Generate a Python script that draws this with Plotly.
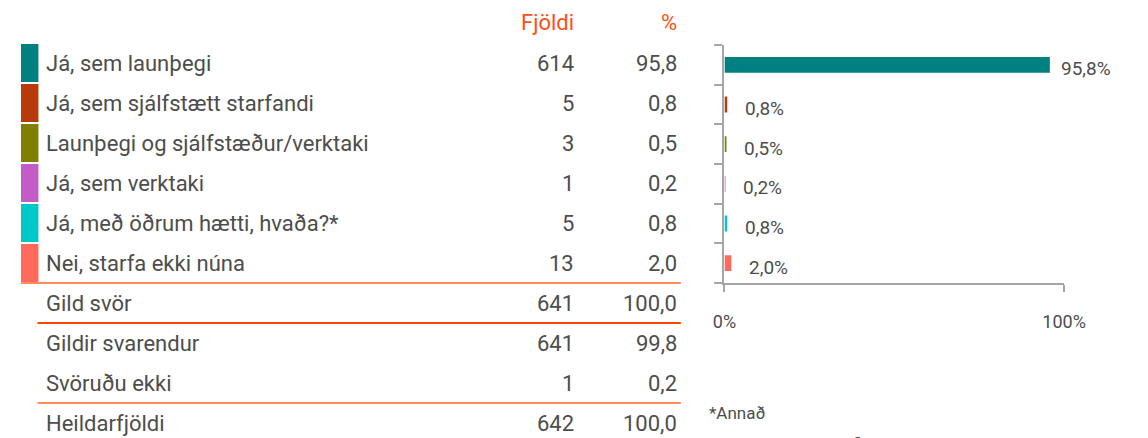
import plotly.graph_objects as go

W, H = 1148, 438
OFF = 8  # page body margin shifts the figure by this much

categories = [
    "Já, sem launþegi",
    "Já, sem sjálfstætt starfandi",
    "Launþegi og sjálfstæður/verktaki",
    "Já, sem verktaki",
    "Já, með öðrum hætti, hvaða?*",
    "Nei, starfa ekki núna",
]
counts = [614, 5, 3, 1, 5, 13]
percents = [95.8, 0.8, 0.5, 0.2, 0.8, 2.0]
bar_colours = ["#008080", "#B83A0B", "#808000", "#C45CC8", "#00C8C8", "#FF6A5A"]

summary_labels = ["Gild svör", "Gildir svarendur", "Svöruðu ekki", "Heildarfjöldi"]
summary_counts = [641, 641, 1, 642]
summary_percents = [100.0, 99.8, 0.2, 100.0]

col_headers = ["Fjöldi", "%"]
x_ticks = [0, 100]
x_ticktext = ["0%", "100%"]
footnote = "*Annað"
footnote_items = ["– Er í veikindaleyfi"]

FONT = "Roboto, Arial, sans-serif"
TEXT = "#4D4D4D"
HEAD = "#FF4F14"
LINE_LIGHT = "#FF8C5A"
LINE_DARK = "#FF4500"
AXIS = "#A6A6A6"

# table geometry in screen pixels
ROW0, ROW_H = 63, 40
LABEL_X, COUNT_X, PCT_X = 33, 581, 687
BOX_X0, BOX_X1 = 9, 27

# bar chart plot area in screen pixels
PX0, PX1 = 734, 1084
PY0, PY1 = 45, 283


def fx(px):
    return (px - OFF) / W


def fy(py):
    return 1 - (py - OFF) / H


def fmt(v):
    return f"{v:.1f}".replace(".", ",")


fig = go.Figure()

fig.add_trace(go.Bar(
    x=percents, y=categories,
    orientation="h",
    marker=dict(color=bar_colours, line=dict(width=0)),
    width=0.4,
    hoverinfo="skip",
    showlegend=False,
))

annotations = []
shapes = []

# bar value labels
for cat, p in zip(categories, percents):
    annotations.append(dict(
        x=p, y=cat, xref="x", yref="y",
        text=fmt(p) + "%", showarrow=False,
        xanchor="left", yanchor="middle",
        xshift=9 if p > 50 else 16, yshift=-4,
        font=dict(family=FONT, size=19, color=TEXT),
    ))

# column headers
for text, x in zip(col_headers, [COUNT_X, PCT_X]):
    annotations.append(dict(
        x=fx(x), y=fy(22), xref="paper", yref="paper",
        text=text, showarrow=False, xanchor="right", yanchor="middle",
        font=dict(family=FONT, size=22, color=HEAD),
    ))

rows = list(zip(categories, counts, percents)) + list(
    zip(summary_labels, summary_counts, summary_percents))

for i, (lab, n, p) in enumerate(rows):
    yc = ROW0 + ROW_H * i
    for text, x, anchor in [(lab, LABEL_X, "left"), (str(n), COUNT_X, "right"),
                            (fmt(p), PCT_X, "right")]:
        annotations.append(dict(
            x=fx(x), y=fy(yc), xref="paper", yref="paper",
            text=text, showarrow=False, xanchor=anchor, yanchor="middle",
            font=dict(family=FONT, size=22, color=TEXT),
        ))

# colour boxes for categories
for i, c in enumerate(bar_colours):
    top = ROW0 - 19 + ROW_H * i
    shapes.append(dict(
        type="rect", xref="paper", yref="paper",
        x0=fx(BOX_X0), x1=fx(BOX_X1), y0=fy(top), y1=fy(top + 38),
        fillcolor=c, line=dict(width=0),
    ))

# separator lines
for y, x0, colour in [(283, BOX_X0, LINE_LIGHT), (323, 26, LINE_DARK), (403, 26, LINE_LIGHT)]:
    shapes.append(dict(
        type="line", xref="paper", yref="paper",
        x0=fx(x0), x1=fx(PCT_X + 2), y0=fy(y), y1=fy(y),
        line=dict(color=colour, width=2),
    ))

# footnote
annotations.append(dict(
    x=fx(716), y=fy(413), xref="paper", yref="paper",
    text=footnote, showarrow=False, xanchor="left", yanchor="middle",
    font=dict(family=FONT, size=17, color=TEXT),
))
for j, t in enumerate(footnote_items):
    annotations.append(dict(
        x=fx(734), y=fy(432 + 26 * j), xref="paper", yref="paper",
        text=t, showarrow=False, xanchor="left", yanchor="top",
        font=dict(family=FONT, size=17, color=TEXT),
    ))

fig.update_layout(
    width=W, height=H,
    margin=dict(l=0, r=0, t=0, b=0),
    paper_bgcolor="white",
    plot_bgcolor="white",
    xaxis=dict(
        domain=[fx(PX0), fx(PX1)],
        range=[0, 100],
        tickvals=x_ticks, ticktext=x_ticktext,
        ticks="outside", ticklen=7, tickwidth=2, tickcolor=AXIS,
        showline=True, linecolor=AXIS, linewidth=2,
        showgrid=False, zeroline=False,
        ticklabelstandoff=14,
        tickfont=dict(family=FONT, size=18, color=TEXT),
        fixedrange=True,
    ),
    yaxis=dict(
        domain=[fy(PY1), fy(PY0)],
        categoryorder="array", categoryarray=categories[::-1],
        autorange=False, range=[-0.5, len(categories) - 0.5],
        ticks="outside", ticklen=8, tickwidth=2, tickcolor=AXIS,
        tickson="boundaries",
        showticklabels=False,
        showline=True, linecolor=AXIS, linewidth=2,
        showgrid=False, zeroline=False,
        fixedrange=True,
    ),
    annotations=annotations,
    shapes=shapes,
)

fig.write_html("out.html")
